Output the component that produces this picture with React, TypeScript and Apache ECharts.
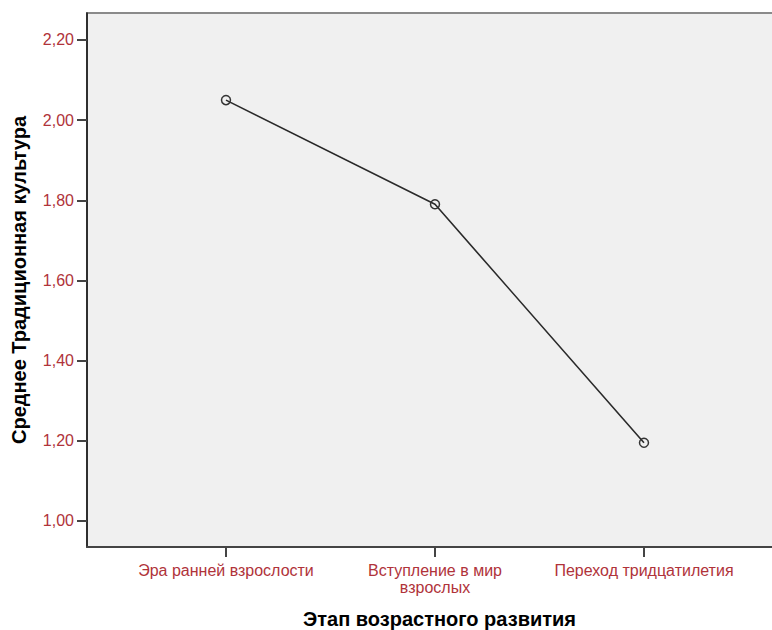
import React, { useEffect, useRef } from "react";
import * as echarts from "echarts";

const categories = ["Эра ранней взрослости", "Вступление в мир\nвзрослых", "Переход тридцатилетия"];
const categoryPositions = [1, 2, 3];
const meanValues = [2.05, 1.79, 1.195];
const yTicks = [1.0, 1.2, 1.4, 1.6, 1.8, 2.0, 2.2];
const yTitle = "Среднее Традиционная культура";
const xTitle = "Этап возрастного развития";

export default function App() {
  const ref = useRef<HTMLDivElement>(null);
  useEffect(() => {
    document.body.style.margin = "0";
    const chart = echarts.init(ref.current!, null, { renderer: "svg" });
    const red = "#b0333a";
    const font = "Liberation Sans";
    const gridW = 705;
    chart.setOption({
      animation: false,
      backgroundColor: "#ffffff",
      grid: {
        left: 87,
        top: 13,
        width: gridW,
        height: 534,
        outerBoundsMode: "none",
        containLabel: false,
        show: true,
        backgroundColor: "#f0f0f0",
        borderColor: "#8a8a8a",
        borderWidth: 2,
      },
      xAxis: {
        type: "value",
        min: 0.335,
        max: 0.335 + gridW / 209,
        name: xTitle,
        nameLocation: "middle",
        nameGap: 62,
        nameTextStyle: { fontFamily: font, fontSize: 20, fontWeight: "bold", color: "#000" },
        axisLine: { show: true, onZero: false, lineStyle: { color: "#444", width: 2 } },
        axisTick: {
          show: true,
          customValues: categoryPositions,
          length: 10,
          inside: false,
          lineStyle: { color: "#444", width: 2 },
        },
        axisLabel: {
          customValues: categoryPositions,
          formatter: (v: number) => categories[Math.round(v) - 1] ?? "",
          color: red,
          fontFamily: font,
          fontSize: 16,
          lineHeight: 17,
          margin: 15,
        },
        splitLine: { show: false },
      },
      yAxis: {
        type: "value",
        min: 0.935,
        max: 0.935 + 534 / 400.8,
        name: yTitle,
        nameLocation: "middle",
        nameGap: 58,
        nameTextStyle: { fontFamily: font, fontSize: 20, fontWeight: "bold", color: "#000" },
        axisLine: { show: true, onZero: false, lineStyle: { color: "#111", width: 1.5 } },
        axisTick: {
          show: true,
          customValues: yTicks,
          length: 10,
          lineStyle: { color: "#444", width: 2 },
        },
        axisLabel: {
          customValues: yTicks,
          formatter: (v: number) => v.toFixed(2).replace(".", ","),
          color: red,
          fontFamily: font,
          fontSize: 16,
          margin: 13,
        },
        splitLine: { show: false },
      },
      series: [
        {
          type: "line",
          data: categoryPositions.map((x, i) => [x, meanValues[i]]),
          symbol: "circle",
          symbolSize: 9,
          lineStyle: { color: "#2a2a2a", width: 1.6 },
          itemStyle: { color: "rgba(0,0,0,0)", borderColor: "#333", borderWidth: 1.5 },
        },
      ],
    });
    return () => chart.dispose();
  }, []);
  return (
    <div style={{ width: 772, height: 630, overflow: "hidden" }}>
      <div ref={ref} style={{ width: 800, height: 630 }} />
    </div>
  );
}
